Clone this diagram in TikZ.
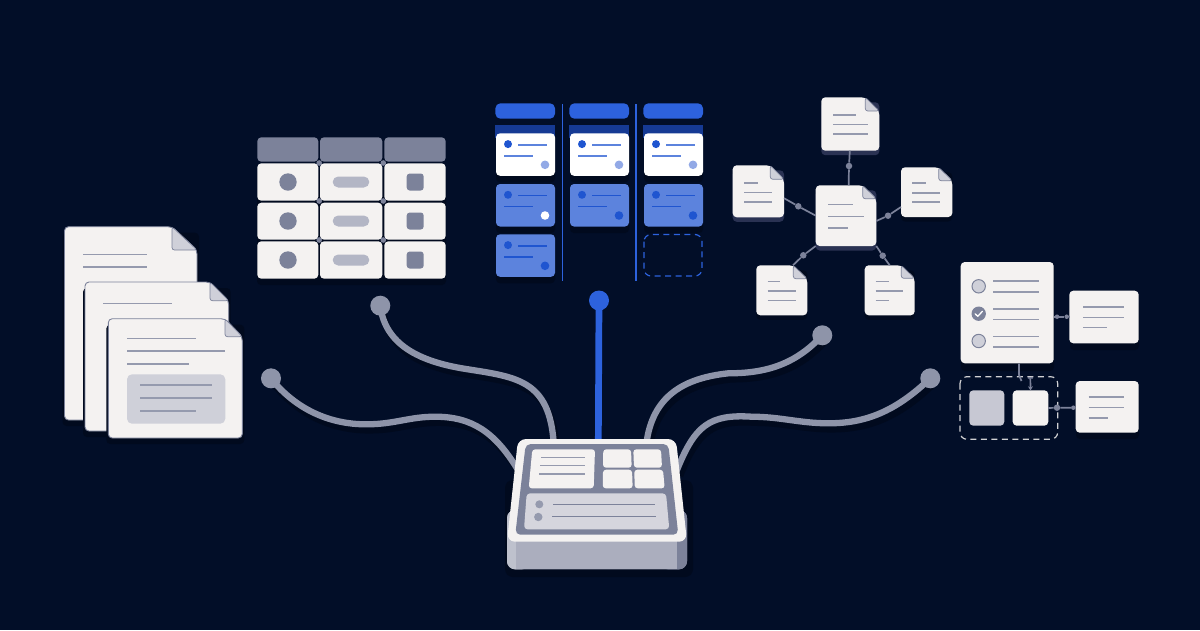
\documentclass[tikz,border=0pt]{standalone}
\usetikzlibrary{fit,arrows.meta}
\definecolor{night}{HTML}{020E28}
\definecolor{umbra}{HTML}{010A1E}
\definecolor{liftshade}{HTML}{2A3253}
\definecolor{paper}{HTML}{F4F2F1}
\definecolor{slate}{HTML}{7C829A}
\definecolor{ruleink}{HTML}{959AAE}
\definecolor{cable}{HTML}{8E94A9}
\definecolor{mist}{HTML}{CFD0D9}
\definecolor{pill}{HTML}{B3B6C5}
\definecolor{royal}{HTML}{2D62DD}
\definecolor{deepblue}{HTML}{1F55D0}
\definecolor{softblue}{HTML}{5C83DD}
\definecolor{paleblue}{HTML}{92A9E6}
\definecolor{bandblue}{HTML}{163A94}
\tikzset{
  rulestroke/.style={draw=ruleink,line width=1.6pt},
  sheetbody/.style={fill=paper,rounded corners=4pt},
  foldbody/.style={fill=mist,draw=slate,line width=.7pt,rounded corners=2.5pt},
  anchorbox/.style={inner sep=0pt,outer sep=0pt},
  cardbox/.style={anchorbox,fill=paper,rounded corners=4pt},
  linkstroke/.style={draw=slate,line width=1.7pt},
  linkdot/.style={circle,fill=slate,inner sep=0pt,minimum size=6.5pt},
  linktick/.style={circle,fill=slate,inner sep=0pt,minimum size=4.5pt},
  cablestroke/.style={draw=cable,line width=6.3pt,line cap=round,
    preaction={draw=umbra,line width=6.5pt,transform canvas={xshift=3pt,yshift=-6pt}}},
  cableport/.style={circle,inner sep=0pt,minimum size=20pt},
}
% text stand-in line on a sheet: x from, x to, y
\newcommand{\txtline}[3]{\draw[rulestroke] (#1,#3) -- (#2,#3);}
% dog-eared sheet: [shadow colour]{node name}{x1}{y1}{x2}{y2}{fold x}{fold y}
\newcommand{\sheet}[8][umbra]{%
  \fill[#1,rounded corners=4pt] (#3,#4+5) rectangle (#5,#6+4.5);
  \path[sheetbody] (#7,#4) -- (#3,#4) -- (#3,#6) -- (#5,#6) -- (#5,#8) -- cycle;
  \path[foldbody] (#7,#4) -- (#7,#8) -- (#5,#8) -- cycle;
  \node[anchorbox,fit={(#3,#4)(#5,#6)}] (#2) {};
}
% same sheet with a thin slate outline, for the stacked pages
\newcommand{\stackedsheet}[7]{%
  \fill[umbra,rounded corners=4pt] (#2-2,#3+6) rectangle (#4+2,#5+6);
  \path[sheetbody,draw=slate,line width=.9pt] (#6,#3) -- (#2,#3) -- (#2,#5) -- (#4,#5) -- (#4,#7) -- cycle;
  \path[foldbody] (#6,#3) -- (#6,#7) -- (#4,#7) -- cycle;
  \node[anchorbox,fit={(#2,#3)(#4,#5)}] (#1) {};
}
% board card: x, y, body colour, mark colour, rule colour, corner-dot colour
\newcommand{\boardcard}[6]{%
  \fill[umbra,rounded corners=4pt] (#1,#2+6) rectangle (#1+59,#2+49);
  \fill[#3,rounded corners=4pt] (#1,#2) rectangle (#1+59,#2+42.5);
  \fill[#4] (#1+12,#2+10.8) circle (4);
  \draw[#5,line width=1.5pt] (#1+22,#2+11.5) -- (#1+51,#2+11.5);
  \draw[#5,line width=1.5pt] (#1+8,#2+22.5) -- (#1+36.5,#2+22.5);
  \fill[#6] (#1+49,#2+31.5) circle (4.3);
}
\begin{document}
\begin{tikzpicture}[x=1pt,y=-1pt]
\fill[night] (0,0) rectangle (1200,630);
\useasboundingbox (0,0) rectangle (1200,630);

% ---- stacked documents, left
\stackedsheet{pageA}{64.5}{226.7}{197}{420}{172}{250}
\txtline{83.3}{147.3}{254.3}
\txtline{83.3}{147.3}{267}
\stackedsheet{pageB}{85}{282}{228.7}{431}{210}{300.7}
\txtline{103.3}{171.7}{303.3}
\stackedsheet{pageC}{108.3}{318.7}{242.3}{438}{225}{336.7}
\txtline{127}{195.7}{338.3}
\txtline{127}{225.3}{351}
\txtline{127}{189.3}{363.7}
\fill[mist,rounded corners=5pt] (127,374.3) rectangle (225.3,423.7);
\txtline{140.3}{211.7}{385}
\txtline{140.3}{211.7}{398}
\txtline{140.3}{195.7}{411}

% ---- table
\fill[umbra,rounded corners=4pt] (257,170) rectangle (446,285);
\foreach \xa/\xb in {257.3/318.3,320/382.3,384.3/445.7}{
  \fill[slate,rounded corners=4pt] (\xa,137.3) rectangle (\xb,161.7);
}
\foreach \ya/\yb in {163.3/200.7,202.7/239.7,241.3/278.7}{
  \foreach \xa/\xb in {257.3/318.3,320/382.3,384.3/445.7}{
    \fill[paper,rounded corners=4pt] (\xa,\ya) rectangle (\xb,\yb);
  }
}
\foreach \yc in {182,221,260}{
  \fill[slate] (288,\yc) circle (8.7);
  \fill[pill,rounded corners=5.5pt] (332.7,\yc-5.5) rectangle (369.3,\yc+5.5);
  \fill[slate,rounded corners=3pt] (406.7,\yc-8.5) rectangle (423.7,\yc+8.5);
}
\foreach \yc in {163,201,240}{
  \fill[slate] (319.2,\yc) circle (2.8);
  \fill[slate] (383.3,\yc) circle (2.8);
}

% ---- board
\foreach \xc in {562.3,635.7}{
  \draw[royal,line width=1.6pt] (\xc,104) -- (\xc,280.7);
}
\foreach \xc in {496,570,644}{
  \fill[royal,rounded corners=5pt] (\xc-.6,103.3) rectangle (\xc+59,118.7);
  \fill[bandblue] (\xc-.6,125) rectangle (\xc+59.4,138);
  \boardcard{\xc}{133.3}{white}{deepblue}{softblue}{paleblue}
}
\boardcard{496}{184}{softblue}{deepblue}{deepblue}{white}
\boardcard{570}{184}{softblue}{deepblue}{deepblue}{deepblue}
\boardcard{644}{184}{softblue}{deepblue}{deepblue}{deepblue}
\boardcard{496}{234.3}{softblue}{deepblue}{deepblue}{deepblue}
\draw[royal,line width=1.2pt,dash pattern=on 6pt off 4.5pt,rounded corners=7pt] (644,234.5) rectangle (702,276);

% ---- document network
\sheet[liftshade]{docTop}{821.3}{97.3}{879.3}{150.7}{865.3}{111}
\txtline{833}{855.7}{114.7}
\txtline{833}{867.7}{124.3}
\txtline{833}{867.7}{133.7}
\sheet[liftshade]{docLeft}{732.7}{165.3}{784}{217.3}{770.3}{179.3}
\txtline{744}{757.7}{182.7}
\txtline{744}{772.3}{192.3}
\txtline{744}{772.3}{202}
\sheet{docRight}{901}{167.3}{952.3}{217}{938.7}{180.7}
\txtline{912.3}{925.7}{183}
\txtline{912.3}{940.3}{192.7}
\txtline{912.3}{940.3}{202}
\sheet[liftshade]{docHub}{815.7}{185.3}{876.3}{246}{862.7}{198.7}
\txtline{828}{852.7}{204.3}
\txtline{828}{864.3}{216.3}
\txtline{828}{847.7}{227.7}
\sheet{docLowL}{756.3}{265.3}{807.3}{315.3}{793.3}{278.7}
\txtline{767.7}{780.3}{281.3}
\txtline{767.7}{795.7}{291}
\txtline{767.7}{795.7}{300.3}
\sheet{docLowR}{864.7}{265.3}{914.7}{315.3}{901.3}{278.3}
\txtline{875.7}{888.7}{281.3}
\txtline{875.7}{903.3}{291}
\txtline{875.7}{888.7}{300.3}

\node[linkdot] (dotTop) at (849,166) {};
\node[linkdot] (dotLeft) at (798.3,206.3) {};
\node[linkdot] (dotRight) at (888,215.7) {};
\node[linkdot] (dotLowL) at (803.3,255.3) {};
\node[linkdot] (dotLowR) at (882.7,255.7) {};
\draw[linkstroke] (docTop.-91) -- (dotTop) -- (docHub.85);
\draw[linkstroke] (docLeft.-15) -- (dotLeft) -- (docHub.west);
\draw[linkstroke] (docRight.210) -- (dotRight) -- (docHub.-10);
\draw[linkstroke] (docLowL.66) -- (dotLowL) -- (docHub.south west);
\draw[linkstroke] (docLowR.north) -- (dotLowR) -- (docHub.south east);

% ---- checklist and its linked cards
\fill[umbra,rounded corners=4pt] (961,262) rectangle (1054,371);
\fill[umbra,rounded corners=4pt] (1070,300) rectangle (1139,350);
\fill[umbra,rounded corners=4pt] (1076,390) rectangle (1139,439);
\node[cardbox,fit={(960.7,262)(1053.7,363.3)}] (checkCard) {};
\node[cardbox,fit={(1069.3,290.7)(1138.7,343.3)}] (noteUpper) {};
\node[cardbox,fit={(1075.7,381)(1138.7,432.7)}] (noteLower) {};
\foreach \yc in {286.3,341}{
  \draw[slate,fill=mist,line width=1pt] (978.7,\yc) circle (6.7);
}
\fill[slate] (978.7,313.7) circle (7.2);
\draw[white,line width=1.3pt,line cap=round,line join=round] (975.2,313.9) -- (977.8,316.3) -- (982.3,311.4);
\foreach \y/\yb in {281/292,309/319.3,336.3/347}{
  \txtline{993.3}{1039}{\y}
  \txtline{993.3}{1039}{\yb}
}
\txtline{1083.3}{1124.3}{306.7}
\txtline{1083.3}{1124.3}{317.3}
\txtline{1083.3}{1106.7}{327.3}
\txtline{1088.7}{1124.3}{397}
\txtline{1088.7}{1124.3}{407.3}
\txtline{1088.7}{1107.7}{417.7}

\draw[paper!85!night,line width=1.2pt,dash pattern=on 6pt off 4.5pt,rounded corners=7pt] (960,376.7) rectangle (1057.7,439.3);
\node[anchorbox,fill=mist!90!slate,rounded corners=4pt,fit={(969.3,390.3)(1004.3,425.7)}] (sqGrey) {};
\node[cardbox,fit={(1012.7,390.3)(1048.3,425.7)}] (sqLight) {};

\node[linktick] (tickUpA) at (1057,316.7) {};
\node[linktick] (tickUpB) at (1066.7,316.7) {};
\draw[linkstroke] (checkCard.east |- tickUpA) -- (tickUpA) -- (tickUpB) -- (noteUpper.west |- tickUpB);
\node[linkdot] (tickLowA) at (1057,407.7) {};
\node[linktick] (tickLowB) at (1073.3,407.7) {};
\draw[linkstroke] (sqLight.east) -- (tickLowA) -- (tickLowB) -- (noteLower.west |- tickLowB);
\coordinate (dropTop) at (1019,363.5);
\coordinate (dropEnd) at (1021.5,381);
\draw[linkstroke] (dropTop) -- (1019,375) -- (dropEnd);
\coordinate (feedTop) at (1030.3,377);
\draw[linkstroke,{Bar[width=5pt,length=1pt]}-{Stealth[length=4pt,width=5pt]}] (feedTop) -- (sqLight.north);

% ---- cables
\node[cableport] (endA) at (271,378.3) {};
\node[cableport] (endB) at (380.3,305.7) {};
\node[cableport] (endBlue) at (599,300.5) {};
\node[cableport] (endC) at (822.3,335.3) {};
\node[cableport] (endD) at (930.3,378.3) {};
\coordinate (hubA) at (518,470);
\coordinate (hubB) at (553.8,445);
\coordinate (hubBlue) at (598.3,445);
\coordinate (hubC) at (646.2,445);
\coordinate (hubD) at (677,470);

\draw[cablestroke] (endA.center) .. controls (292,405) and (325,425) .. (368.3,424.3)
  .. controls (395,424) and (410,416.7) .. (435,416.7)
  .. controls (472,416.7) and (495,432) .. (hubA);
\draw[cablestroke] (endB.center) .. controls (385,345) and (420,361) .. (461.7,368.3)
  .. controls (515,377) and (550,378) .. (hubB);
\draw[cablestroke] (endC.center) .. controls (795,365) and (765,373.3) .. (728.3,373.3)
  .. controls (685,378) and (652,395) .. (hubC);
\draw[cablestroke] (endD.center) .. controls (895,412) and (865,423.3) .. (828.3,423.3)
  .. controls (800,423.3) and (780,416.7) .. (751.7,416.7)
  .. controls (710,414) and (695,425) .. (hubD);
\draw[royal,line width=6.7pt] (endBlue.center) -- (hubBlue);
% round plugs sit on top of the cable ends and their shadows
\foreach \plug in {endA,endB,endC,endD}{
  \fill[cable] (\plug.center) circle (10);
}
\fill[royal] (endBlue.center) circle (10);

% ---- hub device
\fill[umbra,rounded corners=8pt] (505,480) rectangle (693,577);
\fill[ruleink,rounded corners=8pt] (507,510) rectangle (687,569.3);
\fill[mist!80!slate,rounded corners=8pt] (507,510) rectangle (530,569.3);
\fill[slate,rounded corners=8pt] (660,510) rectangle (687,569.3);
\fill[pill!85!slate] (516,530) rectangle (677,569.3);
\path[fill=paper,rounded corners=8pt] (518,439) -- (676,439) -- (687,541.7) -- (507,541.7) -- cycle;
\node[anchorbox,fit={(507,439)(687,569.3)}] (hub) {};
\path[fill=slate,rounded corners=5pt] (525.7,444) -- (668.3,444) -- (678.3,534.7) -- (515.3,534.7) -- cycle;
\path[fill=paper,rounded corners=3pt] (532.3,449.3) -- (595,449.3) -- (593.7,488.3) -- (528.7,488.3) -- cycle;
\txtline{541}{585}{457.3}
\txtline{540}{585}{465.3}
\txtline{539.3}{585}{474}
\path[fill=paper,rounded corners=3pt] (603.3,449.3) -- (631,449.3) -- (631.7,467.7) -- (603,467.7) -- cycle;
\path[fill=paper,rounded corners=3pt] (633.3,449.3) -- (661,449.3) -- (662,467.7) -- (634,467.7) -- cycle;
\path[fill=paper,rounded corners=3pt] (603,469.7) -- (632,469.7) -- (632.7,488.3) -- (602.7,488.3) -- cycle;
\path[fill=paper,rounded corners=3pt] (634.3,469.7) -- (663,469.7) -- (664.7,488.3) -- (634.7,488.3) -- cycle;
\path[fill=mist!85!paper,rounded corners=3.5pt] (526.7,493.3) -- (666,493.3) -- (669.3,529.3) -- (524,529.3) -- cycle;
\fill[ruleink] (539.3,504.3) circle (4);
\fill[ruleink] (538.3,517) circle (4.2);
\draw[slate,line width=1.4pt] (553,504.7) -- (654.7,504.7);
\draw[slate,line width=1.4pt] (552.3,516.7) -- (655.7,516.7);
\end{tikzpicture}
\end{document}
